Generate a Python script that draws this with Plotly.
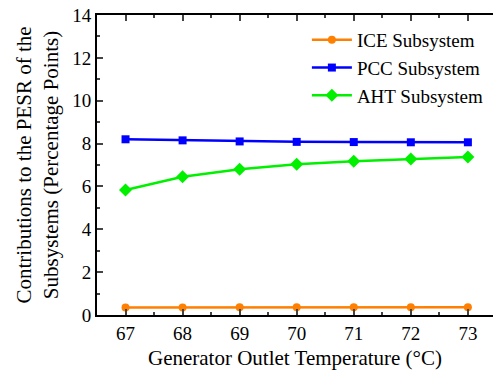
import plotly.graph_objects as go

temps = [67, 68, 69, 70, 71, 72, 73]
ice = [0.35, 0.35, 0.36, 0.36, 0.36, 0.36, 0.36]
pcc = [8.20, 8.15, 8.10, 8.08, 8.07, 8.06, 8.06]
aht = [5.83, 6.45, 6.80, 7.03, 7.17, 7.28, 7.37]
names = ["ICE Subsystem", "PCC Subsystem", "AHT Subsystem"]
colors = ["#FF7F00", "#0000FF", "#00F000"]
symbols = ["circle", "square", "diamond"]
msizes = [8, 8, 10]

fig = go.Figure()
for name, vals, c, s, ms in zip(names, [ice, pcc, aht], colors, symbols, msizes):
    fig.add_trace(go.Scatter(x=temps, y=vals, name=name, mode="lines+markers",
                             line=dict(color=c, width=2.5),
                             marker=dict(color=c, symbol=s, size=ms)))

tfont = dict(family="Liberation Serif", size=19, color="black")
lfont = dict(family="Liberation Serif", size=19, color="black")
titlefont = dict(family="Liberation Serif", size=21, color="black")
fig.update_layout(
    width=493, height=375,
    margin=dict(l=97, r=0, t=15, b=60),
    plot_bgcolor="white", paper_bgcolor="white",
    font=tfont,
    showlegend=True,
    legend=dict(x=0.53, y=0.98, xanchor="left", yanchor="top",
                bgcolor="rgba(0,0,0,0)", font=lfont, tracegroupgap=0,
                itemwidth=40),
)
fig.update_xaxes(range=[66.5, 73.44], tickvals=temps, ticks="inside", ticklen=6,
                 tickwidth=2, showline=True, linewidth=2, linecolor="black",
                 mirror="ticks", showgrid=False, zeroline=False,
                 minor=dict(dtick=0.5, ticks="inside", ticklen=3, tickwidth=2, tick0=66.5),
                 title=dict(text="Generator Outlet Temperature (°C)", font=titlefont, standoff=8),
                 tickfont=tfont)
fig.update_yaxes(range=[0, 14], dtick=2, ticks="inside", ticklen=6, tickwidth=2,
                 showline=True, linewidth=2, linecolor="black", mirror=False,
                 showgrid=False, zeroline=False,
                 minor=dict(dtick=1, ticks="inside", ticklen=3, tickwidth=2),
                 title=dict(text="Contributions to the PESR of the<br>Subsystems (Percentage Points)",
                            font=titlefont, standoff=8),
                 tickfont=tfont)
fig.write_html("out.html")
